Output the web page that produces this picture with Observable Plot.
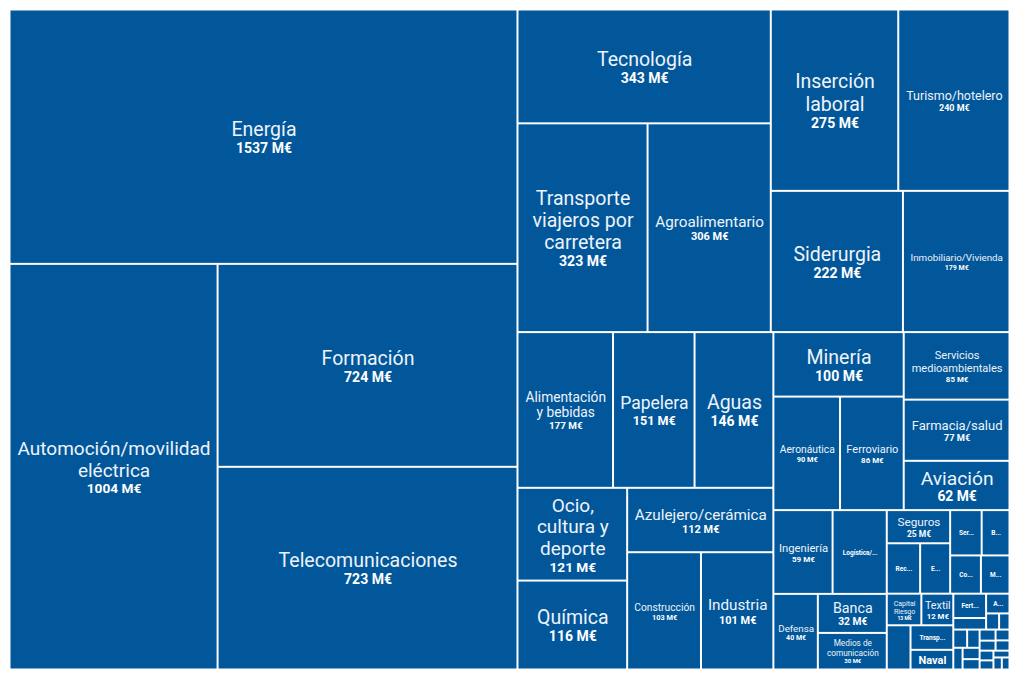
<!DOCTYPE html>
<html>
<head>
<meta charset="utf-8">
<script src="https://cdn.jsdelivr.net/npm/d3@7"></script>
<script src="https://cdn.jsdelivr.net/npm/@observablehq/plot@0.6"></script>
<style>
  html, body { margin: 0; padding: 0; background: #ffffff; }
  #chart { width: 1020px; height: 680px; }
</style>
</head>
<body>
<div id="chart"></div>
<script>
// ---- Data ----
const categories = [
  "Energía", "Automoción/movilidad eléctrica", "Formación", "Telecomunicaciones",
  "Tecnología", "Transporte viajeros por carretera", "Agroalimentario", "Inserción laboral",
  "Turismo/hotelero", "Siderurgia", "Inmobiliario/Vivienda", "Alimentación y bebidas",
  "Papelera", "Aguas", "Ocio, cultura y deporte", "Química", "Azulejero/cerámica",
  "Construcción", "Industria", "Minería", "Aeronáutica", "Ferroviario",
  "Servicios medioambientales", "Farmacia/salud", "Aviación", "Ingeniería", "Logística/...",
  "Defensa", "Banca", "Medios de comunicación", "Seguros", "Rec...", "E...", "Ser...", "B...",
  "Co...", "M...", "Capital Riesgo", "Textil", "", "Transp...", "Naval",
  "Fert...", "", "A...", "", "",
  "", "", "", "", "", "", "", "", "", "", "", "", "", ""
];
const values = [
  1537, 1004, 724, 723,
  343, 323, 306, 275,
  240, 222, 179, 177,
  151, 146, 121, 116, 112,
  103, 101, 100, 90, 86,
  85, 77, 62, 59, 54,
  40, 32, 30, 25, 20, 18, 17, 15,
  14, 13, 13, 12, 12.5, 12.5, 10,
  9.5, 4.5, 5.5, 2.5, 2,
  3, 2.7, 2.4, 2.3, 2.1, 2.1, 1.9, 1.8, 1.7, 1.6, 1.5, 1.3, 1.2, 1.1
];
const unit = " M€";

// ---- Layout (d3 binary treemap) ----
const W = 998, H = 658;
const table = categories.map((name, i) => ({name, value: values[i]}));
const root = d3.hierarchy({children: table}).sum(d => d.value || 0);
d3.treemap().tile(d3.treemapBinary).size([W, H]).paddingInner(2).round(false)(root);
const leaves = root.leaves();

// ---- Label fitting ----
const ctx = document.createElement("canvas").getContext("2d");
function tw(t, size, weight) { ctx.font = `${weight} ${size}px Roboto`; return ctx.measureText(t).width; }
function wrap(text, size, maxW) {
  const words = text.split(" "); const lines = []; let cur = "";
  for (const w of words) {
    const t = cur ? cur + " " + w : w;
    if (!cur || tw(t, size, 400) <= maxW) cur = t; else { lines.push(cur); cur = w; }
  }
  if (cur) lines.push(cur);
  return lines;
}
const MAXF = 19.5, VR = 0.72, LH = 1.15, VLH = 1.2;
const nameLabels = [], valueLabels = [], shortLabels = [];
for (const leaf of leaves) {
  const name = leaf.data.name;
  if (!name) continue;
  const w = leaf.x1 - leaf.x0, h = leaf.y1 - leaf.y0;
  const cx = (leaf.x0 + leaf.x1) / 2, cy = (leaf.y0 + leaf.y1) / 2;
  const px = Math.min(6, w * 0.07), py = Math.min(4, h * 0.12);
  const valText = `${leaf.data.value}${unit}`;
  let done = false;
  if (!name.endsWith("...")) {
    for (let f = MAXF; f >= 7; f -= 0.25) {
      const lines = wrap(name, f, w - 2 * px);
      const mw = Math.max(...lines.map(l => tw(l, f, 400)));
      const v = f * VR;
      const bh = lines.length * f * LH + v * VLH;
      if (mw <= w - 2 * px && tw(valText, v, 700) <= w - 2 * px && bh <= h - 2 * py) {
        const top = cy - bh / 2;
        nameLabels.push({x: cx, y: top + lines.length * f * LH / 2, text: lines.join("\n"), size: f});
        valueLabels.push({x: cx, y: top + lines.length * f * LH + v * VLH / 2, text: valText, size: v});
        done = true;
        break;
      }
    }
  }
  if (!done) {
    const maxS = name.endsWith("...") ? 6.5 : 11;
    for (let f = maxS; f >= 4; f -= 0.25) {
      if (tw(name, f, 700) <= w - 6 && f * LH <= h - 2) {
        shortLabels.push({x: cx, y: cy, text: name, size: f});
        break;
      }
    }
  }
}

// ---- Plot ----
const chart = Plot.plot({
  width: 1020,
  height: 680,
  marginLeft: 10.5,
  marginRight: 11.5,
  marginTop: 10.5,
  marginBottom: 11.5,
  x: {domain: [0, W], axis: null},
  y: {domain: [0, H], axis: null, reverse: true},
  style: {fontFamily: "Roboto, 'Open Sans', sans-serif", background: "#ffffff"},
  marks: [
    Plot.rect(leaves, {x1: "x0", x2: "x1", y1: "y0", y2: "y1", fill: "#02579b"}),
    Plot.text(nameLabels, {x: "x", y: "y", text: "text", fontSize: "size", fill: "#eef3f9",
      lineAnchor: "middle", textAnchor: "middle", lineHeight: LH, fontWeight: 400}),
    Plot.text(valueLabels, {x: "x", y: "y", text: "text", fontSize: "size", fill: "#ffffff",
      lineAnchor: "middle", textAnchor: "middle", fontWeight: 700}),
    Plot.text(shortLabels, {x: "x", y: "y", text: "text", fontSize: "size", fill: "#ffffff",
      lineAnchor: "middle", textAnchor: "middle", fontWeight: 700})
  ]
});
document.getElementById("chart").appendChild(chart);
</script>
</body>
</html>
